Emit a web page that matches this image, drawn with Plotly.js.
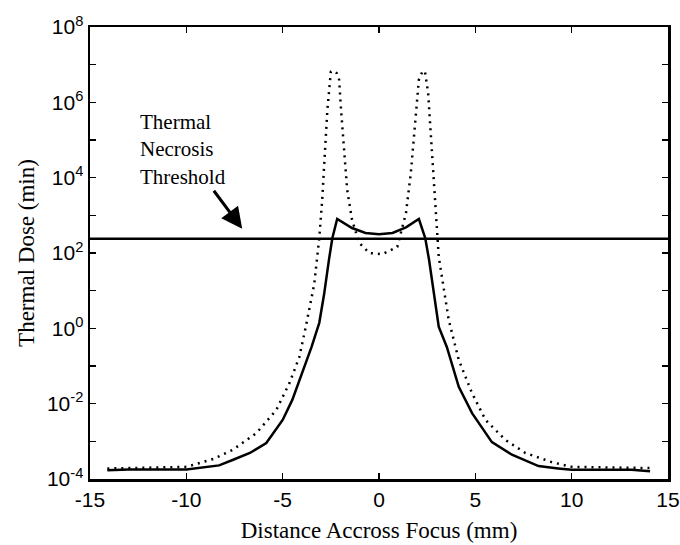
<!DOCTYPE html>
<html>
<head>
<meta charset="utf-8">
<script src="https://cdn.plot.ly/plotly-3.0.1.min.js"></script>
<style>body{margin:0;background:#fff}#chart{width:680px;height:545px}</style>
</head>
<body>
<div id="chart"></div>
<script>
// Solid curve
const solidX = [-14.1, -13, -10, -9, -8.3, -7.6, -6.7, -5.85, -5.0, -4.5, -4.0, -3.5, -3.1, -2.85, -2.6, -2.42, -2.17, -1.4, -0.7, 0, 0.7, 1.4, 2.07, 2.4, 2.6, 3.1, 3.52, 4.14, 4.83, 5.86, 6.9, 8.28, 9.3, 10, 13.1, 14.07];
const solidY = [1.7e-4, 1.8e-4, 1.8e-4, 2.1e-4, 2.3e-4, 3.2e-4, 4.9e-4, 9e-4, 3.7e-3, 1.26e-2, 6.5e-2, 0.32, 1.4, 8, 65, 250, 800, 460, 340, 316, 340, 480, 800, 250, 65, 1.1, 0.32, 2.8e-2, 5.6e-3, 9.5e-4, 4.4e-4, 2.2e-4, 1.9e-4, 1.75e-4, 1.75e-4, 1.6e-4];
// Dotted curve
const dotX = [-14.1, -10, -8.6, -7.6, -6.36, -5.33, -4.65, -4.14, -3.8, -3.36, -3.1, -2.95, -2.8, -2.68, -2.5, -2.4, -2.2, -2.07, -1.97, -1.8, -1.65, -1.4, -1.03, -0.5, 0.17, 0.95, 1.4, 1.65, 1.86, 2.07, 2.25, 2.38, 2.55, 2.69, 2.8, 2.95, 3.1, 3.62, 4.14, 4.83, 5.53, 6.55, 7.6, 8.97, 10, 14.07];
const dotY = [1.9e-4, 2.1e-4, 3.4e-4, 5.9e-4, 1.66e-3, 6.8e-3, 3.5e-2, 0.17, 1.1, 15, 250, 2500, 5.4e4, 6.3e5, 6.5e6, 6.9e6, 6e6, 4e6, 6.3e5, 5.4e4, 4.7e3, 760, 186, 100, 93, 145, 1150, 1.3e4, 2.2e5, 4e6, 6.5e6, 6.8e6, 1.8e6, 1.5e5, 1.3e4, 1150, 80, 1.66, 0.145, 1.9e-2, 3.7e-3, 1.1e-3, 4.9e-4, 2.8e-4, 2.1e-4, 1.95e-4];
// Threshold
const thresholdX = [-15, 15];
const thresholdValue = 240;
const thresholdY = [thresholdValue, thresholdValue];
// Ticks
const yTickVals = [1e-4, 1e-2, 1e0, 1e2, 1e4, 1e6, 1e8];
const yTickText = ['10<sup>-4</sup>', '10<sup>-2</sup>', '10<sup>0</sup>', '10<sup>2</sup>', '10<sup>4</sup>', '10<sup>6</sup>', '10<sup>8</sup>'];
const yMinorTickVals = [1e-3, 1e-1, 1e1, 1e3, 1e5, 1e7];
const xTickVals = [-15, -10, -5, 0, 5, 10, 15];
const xTickText = ['-15', '-10', '-5', '0', '5', '10', '15'];
const arrowHead = {x: -7.1, y: 440};

const traces = [
  {x: dotX, y: dotY, mode: 'lines', line: {color: '#000', width: 2.5, dash: '2px,5px'}, hoverinfo: 'skip'},
  {x: solidX, y: solidY, mode: 'lines', line: {color: '#000', width: 2.5}, hoverinfo: 'skip'},
  {x: thresholdX, y: thresholdY, mode: 'lines', line: {color: '#000', width: 2.5}, hoverinfo: 'skip'}
];

const tickFont = {family: 'Liberation Sans, Arial, sans-serif', size: 21, color: '#000'};
const titleFont = {family: 'Liberation Serif, Times New Roman, serif', size: 23, color: '#000'};

const layout = {
  width: 680, height: 545,
  margin: {l: 90, r: 12, t: 27, b: 66},
  paper_bgcolor: '#fff', plot_bgcolor: '#fff',
  showlegend: false,
  xaxis: {
    range: [-15, 15], tickvals: xTickVals, ticktext: xTickText,
    ticks: 'inside', ticklen: 6, tickwidth: 1.5, tickcolor: '#000',
    showline: true, linecolor: '#000', linewidth: 2.5, mirror: 'ticks',
    showgrid: false, zeroline: false, tickfont: tickFont, ticklabeloverflow: 'allow',
    title: {text: 'Distance Accross Focus (mm)', font: titleFont, standoff: 12}
  },
  yaxis: {
    type: 'log', range: [-4, 8], tickvals: yTickVals, ticktext: yTickText,
    ticks: 'inside', ticklen: 6, tickwidth: 1.5, tickcolor: '#000',
    minor: {tickvals: yMinorTickVals, ticks: 'inside', ticklen: 6, tickwidth: 1.5, tickcolor: '#000', showgrid: false},
    showline: true, linecolor: '#000', linewidth: 2.5, mirror: 'ticks',
    showgrid: false, zeroline: false, tickfont: tickFont, ticklabeloverflow: 'allow',
    title: {text: 'Thermal Dose (min)', font: titleFont, standoff: 6}
  },
  annotations: [
    {x: arrowHead.x, y: Math.log10(arrowHead.y), xref: 'x', yref: 'y',
     text: 'Thermal<br>Necrosis<br>Threshold', align: 'left', showarrow: true,
     font: {family: 'Liberation Serif, Times New Roman, serif', size: 21, color: '#000'},
     arrowhead: 2, arrowsize: 1.4, arrowwidth: 3, arrowcolor: '#000', ax: -59, ay: -79, standoff: 0}
  ]
};

Plotly.newPlot('chart', traces, layout, {staticPlot: true});
</script>
</body>
</html>
